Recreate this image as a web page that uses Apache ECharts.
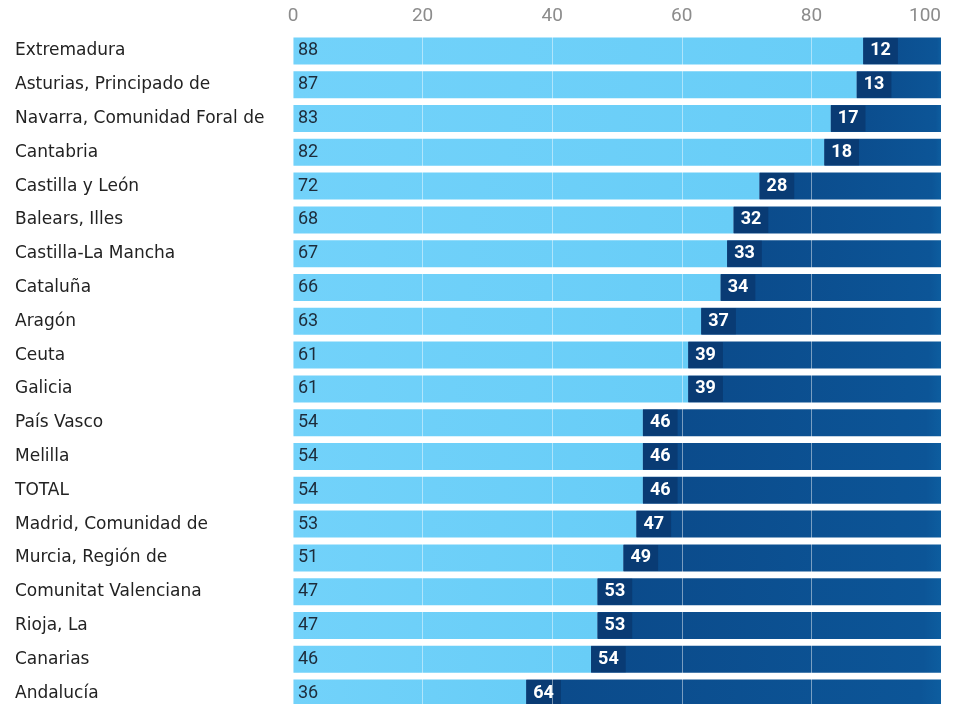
<!DOCTYPE html>
<html>
<head>
<meta charset="utf-8">
<script src="https://cdn.jsdelivr.net/npm/echarts@6/dist/echarts.min.js"></script>
<style>
  html, body { margin: 0; padding: 0; background: #fff; }
  #chart { width: 954px; height: 704px; }
</style>
</head>
<body>
<div id="chart"></div>
<script>
const categories = [
  "Extremadura", "Asturias, Principado de", "Navarra, Comunidad Foral de", "Cantabria",
  "Castilla y León", "Balears, Illes", "Castilla-La Mancha", "Cataluña", "Aragón", "Ceuta",
  "Galicia", "País Vasco", "Melilla", "TOTAL", "Madrid, Comunidad de", "Murcia, Región de",
  "Comunitat Valenciana", "Rioja, La", "Canarias", "Andalucía"
];
const lightValues = [88, 87, 83, 82, 72, 68, 67, 66, 63, 61, 61, 54, 54, 54, 53, 51, 47, 47, 46, 36];
const darkValues  = [12, 13, 17, 18, 28, 32, 33, 34, 37, 39, 39, 46, 46, 46, 47, 49, 53, 53, 54, 64];
const tickValues = [0, 20, 40, 60, 80, 100];

const chart = echarts.init(document.getElementById('chart'));
chart.setOption({
  backgroundColor: '#ffffff',
  animation: false,
  grid: { left: 293, right: 13, top: 34, height: 676, outerBoundsMode: 'none', containLabel: false },
  xAxis: {
    type: 'value',
    position: 'top',
    min: tickValues[0],
    max: tickValues[tickValues.length - 1],
    interval: 20,
    z: 5,
    axisLine: { show: false },
    axisTick: { show: false },
    axisLabel: {
      margin: 8,
      color: '#8c8c8c',
      fontFamily: 'Roboto',
      fontSize: 19,
      alignMinLabel: 'center',
      alignMaxLabel: 'right'
    },
    splitLine: { show: true, lineStyle: { color: 'rgba(255,255,255,0.45)', width: 1 } }
  },
  yAxis: {
    type: 'category',
    data: categories,
    inverse: true,
    axisLine: { show: false },
    axisTick: { show: false },
    axisLabel: {
      align: 'left',
      margin: 278,
      color: '#222222',
      fontFamily: 'DejaVu Sans',
      fontSize: 17
    }
  },
  series: [
    {
      type: 'bar',
      stack: 'total',
      data: lightValues,
      barWidth: 27,
      itemStyle: {
        color: new echarts.graphic.LinearGradient(0, 0, 1, 0, [
          { offset: 0, color: '#72d2fa' },
          { offset: 1, color: '#68cdf7' }
        ])
      },
      label: {
        show: true,
        position: 'insideLeft',
        distance: 5,
        color: '#1d2b3a',
        fontFamily: 'Roboto',
        fontSize: 18
      }
    },
    {
      type: 'bar',
      stack: 'total',
      data: darkValues,
      barWidth: 27,
      itemStyle: {
        color: new echarts.graphic.LinearGradient(0, 0, 1, 0, [
          { offset: 0, color: '#0b4a8a' },
          { offset: 0.95, color: '#0c5597' },
          { offset: 1, color: '#0d5d9f' }
        ])
      },
      label: {
        show: true,
        position: 'insideLeft',
        distance: 0,
        color: '#ffffff',
        fontFamily: 'Roboto',
        fontWeight: 'bold',
        fontSize: 18,
        backgroundColor: '#093b74',
        padding: [4, 7, 4, 7]
      }
    }
  ]
});
</script>
</body>
</html>
